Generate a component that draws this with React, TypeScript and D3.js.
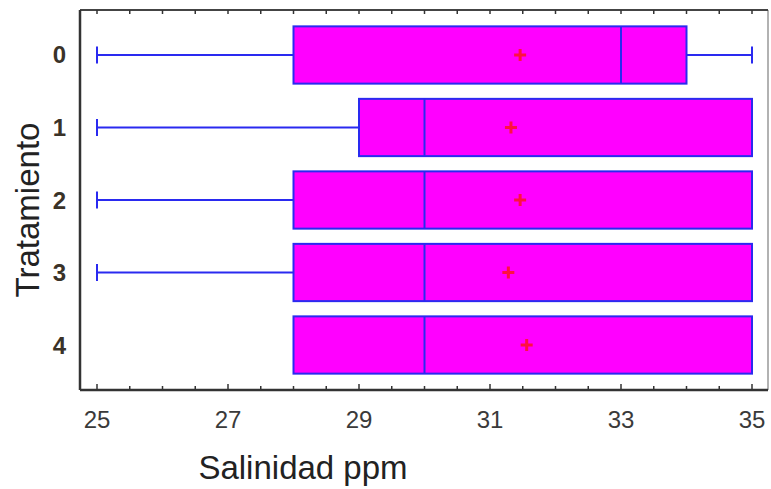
import React from "react";
import * as d3 from "d3";

const categories = ["0", "1", "2", "3", "4"];
const mins = [25, 25, 25, 25, 28];
const q1s = [28, 29, 28, 28, 28];
const medians = [33, 30, 30, 30, 30];
const q3s = [34, 35, 35, 35, 35];
const maxs = [35, 35, 35, 35, 35];
const means = [31.46, 31.32, 31.46, 31.28, 31.56];
const xTicks = [25, 27, 29, 31, 33, 35];
const xTitle = "Salinidad ppm";
const yTitle = "Tratamiento";

const W = 771;
const H = 489;
const frame = { left: 80, right: 768, top: 10, bottom: 390 };
const FONT = "'Liberation Sans', Arial, Helvetica, sans-serif";
const BLUE = "#2a2af0";
const MAGENTA = "#ff00ff";
const RED = "#ff1040";

export default function App() {
  const x = d3.scaleLinear().domain([25, 35]).range([97, 752]);
  const y = d3
    .scaleBand<string>()
    .domain(categories)
    .range([frame.top, frame.bottom])
    .paddingInner(0.21)
    .paddingOuter(0.2256);
  const bw = y.bandwidth();
  const capH = 17;
  const minorTicks = d3.range(25, 35.001, 0.5);

  return (
    <div style={{ position: "fixed", left: 0, top: 0 }}>
      <svg width={W} height={H} style={{ display: "block", background: "#fff" }}>
        {categories.map((c, i) => {
          const y0 = y(c)!;
          const cy = y0 + bw / 2;
          return (
            <g key={c}>
              {mins[i] < q1s[i] && (
                <g stroke={BLUE} strokeWidth={2}>
                  <line x1={x(mins[i])} x2={x(q1s[i])} y1={cy} y2={cy} />
                  <line x1={x(mins[i])} x2={x(mins[i])} y1={cy - capH / 2} y2={cy + capH / 2} />
                </g>
              )}
              {maxs[i] > q3s[i] && (
                <g stroke={BLUE} strokeWidth={2}>
                  <line x1={x(q3s[i])} x2={x(maxs[i])} y1={cy} y2={cy} />
                  <line x1={x(maxs[i])} x2={x(maxs[i])} y1={cy - capH / 2} y2={cy + capH / 2} />
                </g>
              )}
              <rect
                x={x(q1s[i])}
                y={y0}
                width={x(q3s[i]) - x(q1s[i])}
                height={bw}
                fill={MAGENTA}
                stroke={BLUE}
                strokeWidth={2}
              />
              <line
                x1={x(medians[i])}
                x2={x(medians[i])}
                y1={y0}
                y2={y0 + bw}
                stroke={BLUE}
                strokeWidth={2}
              />
              <g stroke={RED} strokeWidth={3}>
                <line x1={x(means[i]) - 6} x2={x(means[i]) + 6} y1={cy} y2={cy} />
                <line x1={x(means[i])} x2={x(means[i])} y1={cy - 6} y2={cy + 6} />
              </g>
            </g>
          );
        })}

        <line x1={frame.right} x2={frame.right} y1={frame.top} y2={frame.bottom} stroke="#999" strokeWidth={1.5} />
        <line x1={frame.left} x2={frame.right} y1={frame.top} y2={frame.top} stroke="#444" strokeWidth={2} />
        <line x1={frame.left} x2={frame.right} y1={frame.bottom} y2={frame.bottom} stroke="#333" strokeWidth={2.5} />
        <line x1={frame.left} x2={frame.left} y1={frame.top} y2={frame.bottom} stroke="#333" strokeWidth={2.5} />

        {minorTicks.map((t) => {
          const major = Math.abs(t - Math.round(t)) < 1e-6 && Math.round(t) % 2 === 1;
          const len = major ? 6 : 4;
          return (
            <g key={t} stroke="#333" strokeWidth={1.5}>
              <line x1={x(t)} x2={x(t)} y1={frame.top} y2={frame.top + 4} />
              <line x1={x(t)} x2={x(t)} y1={frame.bottom} y2={frame.bottom - len} />
            </g>
          );
        })}

        {xTicks.map((t) => (
          <text
            key={t}
            x={x(t)}
            y={428}
            textAnchor="middle"
            fontFamily={FONT}
            fontSize={24}
            fill="#3a3a3a"
          >
            {t}
          </text>
        ))}

        {categories.map((c) => (
          <text
            key={c}
            x={66}
            y={y(c)! + bw / 2}
            textAnchor="end"
            dominantBaseline="central"
            fontFamily={FONT}
            fontSize={24}
            fontWeight="bold"
            fill="#3a3228"
          >
            {c}
          </text>
        ))}

        <text
          x={303}
          y={479}
          textAnchor="middle"
          fontFamily={FONT}
          fontSize={33}
          fill="#222"
        >
          {xTitle}
        </text>
        <text
          transform={`translate(39, 210) rotate(-90)`}
          textAnchor="middle"
          fontFamily={FONT}
          fontSize={33}
          fill="#222"
        >
          {yTitle}
        </text>
      </svg>
    </div>
  );
}
